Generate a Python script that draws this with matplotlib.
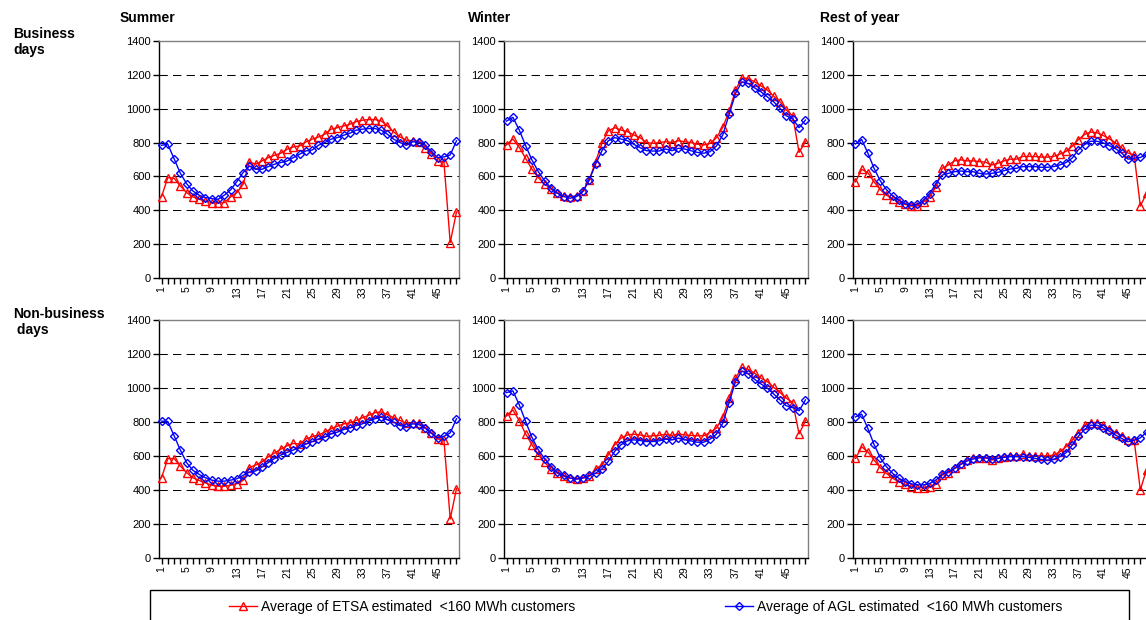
import numpy as np
import matplotlib.pyplot as plt
from matplotlib.lines import Line2D
from matplotlib.patches import Rectangle

plt.rcParams['font.family'] = ['Liberation Sans', 'DejaVu Sans']

## half-hour periods
periods = np.arange(1, 49)

## ETSA averages (red)
etsa_sum_bus = [480, 593, 589, 544, 504, 479, 465, 455, 445, 445, 445, 479, 504, 553, 686, 672,
                691, 711, 725, 737, 760, 774, 780, 804, 820, 833, 849, 879, 888, 898, 908, 924,
                932, 936, 936, 928, 898, 863, 833, 814, 810, 804, 770, 735, 691, 685, 209, 390]
etsa_win_bus = [786, 821, 772, 707, 642, 593, 556, 524, 501, 485, 481, 485, 511, 579, 687, 795,
                870, 888, 874, 865, 845, 829, 800, 795, 800, 805, 800, 811, 805, 800, 790, 786,
                795, 829, 890, 986, 1110, 1182, 1178, 1159, 1135, 1110, 1074, 1041, 992, 956, 742, 805]
etsa_rest_bus = [568, 642, 622, 568, 522, 489, 469, 449, 435, 425, 425, 449, 479, 538, 648, 668,
                 692, 698, 692, 692, 688, 684, 668, 678, 692, 702, 702, 718, 718, 718, 714, 714,
                 718, 732, 748, 778, 818, 848, 862, 858, 842, 822, 798, 768, 738, 728, 425, 500]
etsa_sum_nonbus = [472, 585, 585, 541, 502, 472, 456, 442, 428, 422, 422, 428, 438, 456, 531, 547,
                   565, 595, 617, 640, 660, 674, 670, 700, 714, 724, 740, 760, 775, 789, 795, 809,
                   825, 839, 855, 859, 843, 825, 809, 793, 795, 793, 765, 736, 700, 694, 230, 408]
etsa_win_nonbus = [836, 871, 807, 730, 666, 607, 562, 523, 499, 480, 470, 466, 470, 480, 523, 548,
                   607, 666, 705, 724, 728, 724, 715, 719, 721, 728, 721, 730, 724, 721, 719, 719,
                   738, 764, 828, 940, 1057, 1122, 1110, 1087, 1057, 1038, 1004, 973, 940, 914, 730, 807]
etsa_rest_nonbus = [586, 654, 625, 576, 531, 498, 469, 449, 434, 420, 414, 414, 420, 434, 488, 502,
                    527, 551, 576, 590, 590, 590, 576, 586, 596, 601, 601, 609, 601, 601, 601, 601,
                    605, 625, 654, 693, 738, 781, 797, 797, 781, 758, 738, 719, 697, 693, 400, 520]

## AGL averages (blue)
agl_sum_bus = [784, 790, 705, 619, 557, 514, 489, 475, 469, 465, 489, 520, 569, 623, 662, 642,
               642, 658, 672, 682, 691, 711, 731, 751, 756, 784, 800, 820, 829, 843, 855, 873,
               879, 883, 883, 873, 849, 820, 800, 784, 804, 804, 784, 747, 711, 715, 727, 810]
agl_win_bus = [927, 949, 874, 782, 697, 628, 573, 530, 501, 481, 471, 481, 511, 579, 672, 752,
               811, 829, 821, 811, 790, 770, 752, 750, 750, 762, 752, 766, 762, 752, 742, 737,
               746, 780, 845, 966, 1090, 1159, 1149, 1123, 1100, 1070, 1041, 1002, 958, 939, 888, 933]
agl_rest_bus = [792, 818, 738, 648, 574, 522, 485, 459, 439, 429, 435, 459, 499, 558, 608, 618,
                628, 632, 628, 628, 618, 614, 618, 624, 634, 644, 648, 658, 658, 658, 654, 654,
                658, 668, 682, 708, 758, 788, 808, 808, 798, 782, 764, 738, 702, 708, 712, 730]
agl_sum_nonbus = [805, 803, 720, 635, 561, 516, 492, 472, 458, 452, 452, 458, 466, 486, 506, 512,
                  535, 561, 585, 605, 621, 635, 650, 670, 684, 700, 710, 730, 740, 755, 765, 779,
                  789, 805, 819, 829, 813, 799, 779, 773, 789, 785, 765, 734, 706, 716, 736, 819]
agl_win_nonbus = [973, 983, 901, 803, 709, 636, 583, 538, 503, 486, 470, 464, 470, 486, 499, 523,
                  568, 627, 666, 689, 695, 691, 685, 685, 689, 699, 695, 705, 695, 689, 681, 681,
                  699, 728, 793, 914, 1038, 1100, 1083, 1051, 1024, 999, 965, 930, 895, 885, 866, 930]
agl_rest_nonbus = [830, 846, 762, 668, 590, 537, 498, 469, 449, 436, 430, 430, 439, 459, 492, 508,
                   527, 551, 570, 582, 590, 590, 582, 586, 592, 596, 596, 596, 592, 586, 580, 576,
                   580, 596, 619, 664, 717, 756, 781, 781, 766, 746, 723, 703, 684, 693, 707, 740]

seasons = ["Summer", "Winter", "Rest of year"]
day_types = ["Business\ndays", "Non-business\n days"]
etsa = [[etsa_sum_bus, etsa_win_bus, etsa_rest_bus],
        [etsa_sum_nonbus, etsa_win_nonbus, etsa_rest_nonbus]]
agl = [[agl_sum_bus, agl_win_bus, agl_rest_bus],
       [agl_sum_nonbus, agl_win_nonbus, agl_rest_nonbus]]

W, H = 1146, 620
fig = plt.figure(figsize=(W / 100, H / 100), dpi=100)

## panel boxes in pixels: left, width ; top, bottom
lefts = [159, 504, 853]
widths = [300, 304, 296]
rows = [(41, 278), (320, 558)]

red_style = dict(color='#FF0000', lw=1, marker='^', ms=6, mfc='none', mec='#FF0000', mew=1)
blue_style = dict(color='#0000FF', lw=1, marker='D', ms=4.3, mfc='none', mec='#0000FF', mew=1)

xlabels = [str(p) if (p - 1) % 4 == 0 else "" for p in periods]

for r, (top, bottom) in enumerate(rows):
    for c in range(3):
        ax = fig.add_axes([lefts[c] / W, 1 - bottom / H, widths[c] / W, (bottom - top) / H])
        ax.set_ylim(0, 1400)
        ax.set_xlim(0.6, 48.4)
        ax.set_yticks(range(0, 1401, 200))
        ax.set_xticks(periods)
        ax.set_xticklabels(xlabels, rotation=90, fontsize=7.5)
        ax.tick_params(axis='y', labelsize=8, length=4, width=1, direction='out', pad=2)
        ax.tick_params(axis='x', length=4, width=1, direction='out', pad=2)
        for y in range(200, 1400, 200):
            ax.axhline(y, color='black', lw=0.75, dashes=[8, 5], zorder=1)
        ax.plot(periods, etsa[r][c], zorder=3, clip_on=False, **red_style)
        ax.plot(periods, agl[r][c], zorder=4, clip_on=False, **blue_style)
        ax.spines['left'].set_color('black')
        ax.spines['bottom'].set_color('black')
        ax.spines['top'].set_color('#808080')
        ax.spines['right'].set_color('#808080')
        for s in ax.spines.values():
            s.set_linewidth(1)

## column and row headings
for c, name in enumerate(seasons):
    fig.text([120, 468, 820][c] / W, 1 - 18 / H, name, fontsize=10, fontweight='bold', va='center')
fig.text(13 / W, 1 - 42 / H, day_types[0], fontsize=10, fontweight='bold', va='center')
fig.text(13 / W, 1 - 322 / H, day_types[1], fontsize=10, fontweight='bold', va='center')

## legend box along the bottom
fig.patches.append(Rectangle((150 / W, 1 - 630 / H), 979 / W, 40 / H, transform=fig.transFigure,
                             fill=False, edgecolor='black', lw=1))
h1 = Line2D([], [], **red_style)
h2 = Line2D([], [], **blue_style)
for h, lab, x in [(h1, "Average of ETSA estimated  <160 MWh customers", 222),
                  (h2, "Average of AGL estimated  <160 MWh customers", 718)]:
    fig.legend(handles=[h], labels=[lab], loc='center left', bbox_to_anchor=(x / W, 1 - 607 / H),
               frameon=False, fontsize=10, handlelength=2.0, handletextpad=0.3, borderpad=0)

fig.savefig("out.png", dpi=100)
